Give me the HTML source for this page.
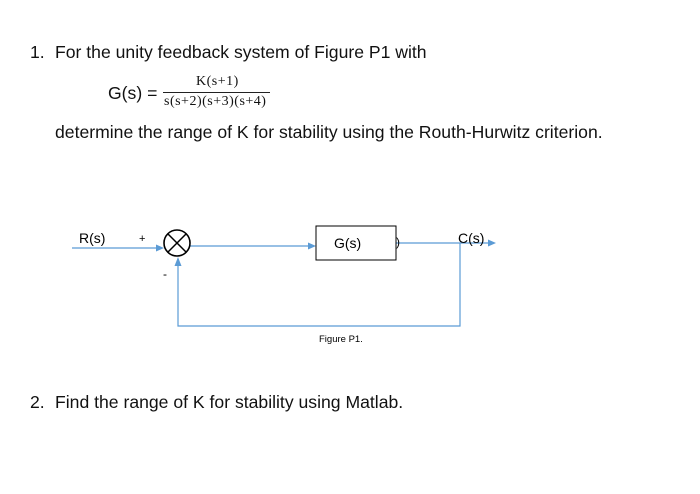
<!DOCTYPE html>
<html><head><style>
body{margin:0;width:700px;height:494px;background:#fff;position:relative;font-family:"Liberation Sans",Arial,sans-serif;color:#111;overflow:hidden}
.t{position:absolute;white-space:nowrap;font-size:17.6px}
.s{position:absolute;white-space:nowrap;font-family:"Liberation Serif",serif;font-size:14px;letter-spacing:0.5px}
</style></head><body>
<div class="t" style="left:30px;top:42px">1.</div>
<div class="t" style="left:55px;top:42px">For the unity feedback system of Figure P1 with</div>
<div class="t" style="left:108px;top:83px">G(s) =</div>
<div class="s" style="left:196px;top:74px">K(s+1)</div>
<div style="position:absolute;left:163px;top:92px;width:107px;height:1px;background:#222"></div>
<div class="s" style="left:164px;top:94px">s(s+2)(s+3)(s+4)</div>
<div class="t" style="left:55px;top:122px">determine the range of K for stability using the Routh-Hurwitz criterion.</div>
<div class="t" style="left:30px;top:392px">2.</div>
<div class="t" style="left:55px;top:392px">Find the range of K for stability using Matlab.</div>
<svg width="700" height="494" style="position:absolute;left:0;top:0" font-family="Liberation Sans, sans-serif">
<g stroke="#5b9bd5" stroke-width="1.2" fill="none">
<line x1="72" y1="248" x2="158" y2="248"/>
<line x1="190" y1="246" x2="310" y2="246"/>
<line x1="396" y1="243" x2="489" y2="243"/>
<polyline points="460,243 460,326 178,326 178,265"/>
</g>
<g fill="#5b9bd5">
<polygon points="164,248 156,244.5 156,251.5"/>
<polygon points="316,246 308,242.5 308,249.5"/>
<polygon points="496,243 488,239.5 488,246.5"/>
<polygon points="178,257 174.5,266 181.5,266"/>
</g>
<circle cx="177" cy="243" r="13" fill="#fff" stroke="#000" stroke-width="1.6"/>
<line x1="168" y1="234" x2="186" y2="252" stroke="#000" stroke-width="1.5"/>
<line x1="186" y1="234" x2="168" y2="252" stroke="#000" stroke-width="1.5"/>
<rect x="316" y="226" width="80" height="34" fill="#fff" stroke="#000" stroke-width="1"/>
<text x="334" y="248" font-size="14">G(s)</text>
<text x="396" y="246" font-size="12">)</text>
<text x="79" y="243" font-size="14">R(s)</text>
<text x="139" y="242" font-size="11">+</text>
<text x="163" y="278" font-size="12">-</text>
<text x="458" y="243" font-size="14">C(s)</text>
<text x="319" y="342" font-size="9.5">Figure P1.</text>
</svg>
</body></html>
